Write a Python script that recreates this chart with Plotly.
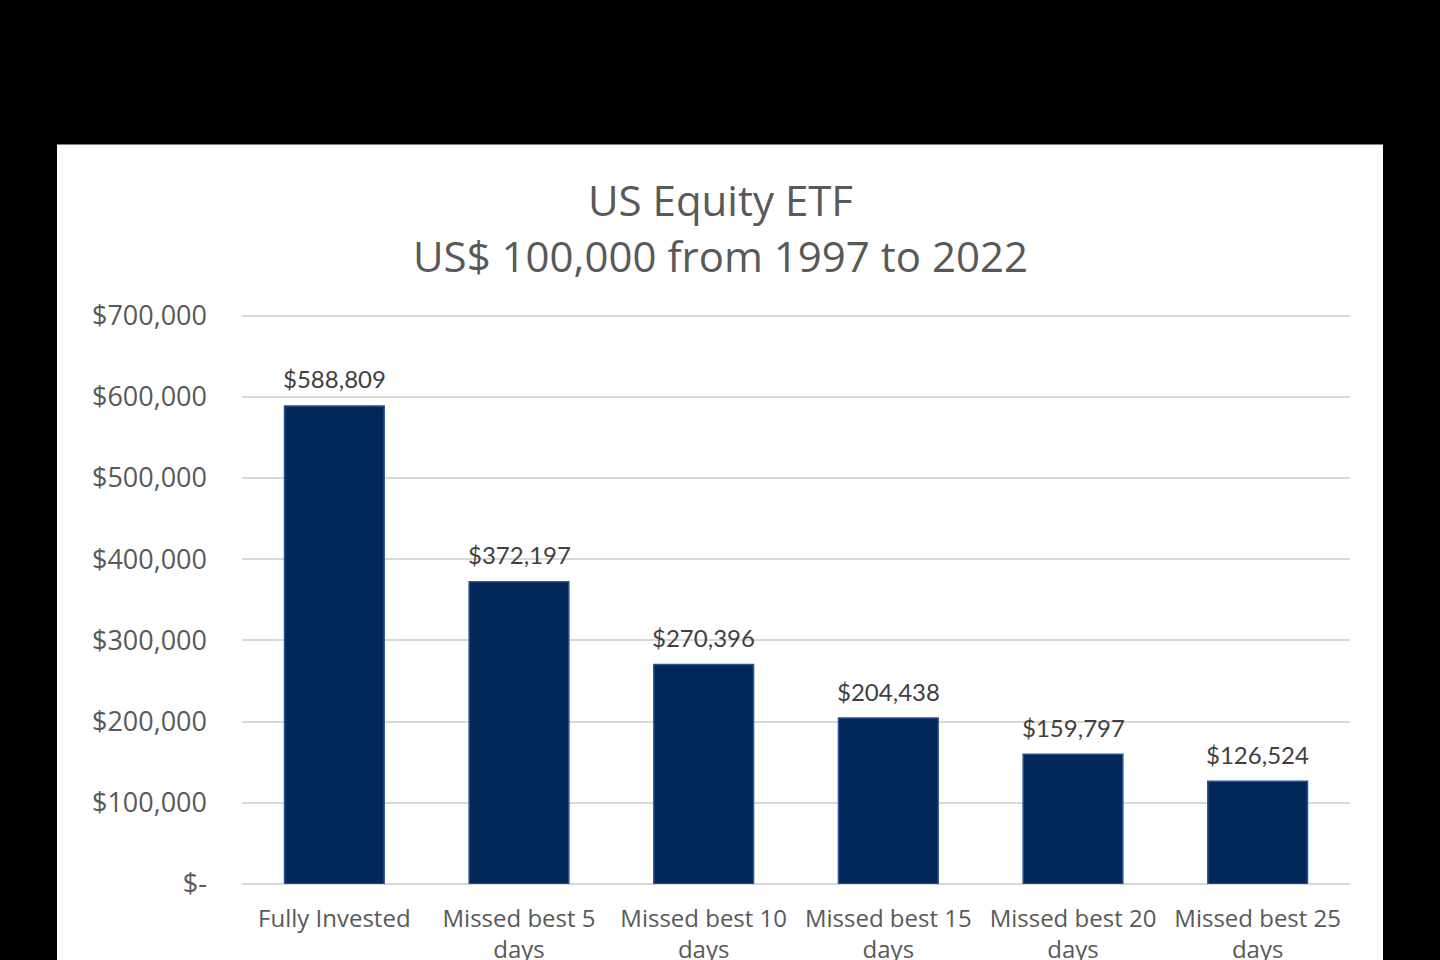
import plotly.graph_objects as go

categories = ["Fully Invested", "Missed best 5<br>days", "Missed best 10<br>days",
              "Missed best 15<br>days", "Missed best 20<br>days", "Missed best 25<br>days"]
values = [588809, 372197, 270396, 204438, 159797, 126524]
tick_vals = [0, 100000, 200000, 300000, 400000, 500000, 600000, 700000]
tick_text = ["$-", "$100,000", "$200,000", "$300,000", "$400,000", "$500,000", "$600,000", "$700,000"]
title_lines = ["US Equity ETF", "US$ 100,000 from 1997 to 2022"]

W, H = 1440, 960
y_top = 702000
L, R, B = 242, 90, 76
ph = (884 - 316) * y_top / 700000
T = H - B - ph
pw = W - L - R

def px_x(p):
    return (p - L) / pw

def px_y(p):
    return (H - B - p) / ph

fig = go.Figure()
fig.add_trace(go.Bar(
    x=categories, y=values,
    marker=dict(color="#012858", line=dict(color="#2a5494", width=1.5)),
))

for c, v in zip(categories, values):
    fig.add_annotation(x=c, y=v, text="${:,.0f}".format(v), showarrow=False,
                       xanchor="center", yanchor="middle", yshift=27,
                       font=dict(family="Lato", size=24, color="#404040"))

fig.add_shape(type="rect", xref="paper", yref="paper",
              x0=px_x(57), x1=px_x(1383), y0=px_y(1000), y1=px_y(145),
              fillcolor="white", line=dict(width=0), layer="below")

fig.add_annotation(text=title_lines[0], xref="paper", yref="paper",
                   x=px_x(720), y=px_y(200), showarrow=False, xanchor="center", yanchor="middle",
                   font=dict(family="Open Sans", size=42, color="#595959"))
fig.add_annotation(text=title_lines[1], xref="paper", yref="paper",
                   x=px_x(720), y=px_y(256), showarrow=False, xanchor="center", yanchor="middle",
                   font=dict(family="Open Sans", size=42, color="#595959"))

fig.update_layout(
    width=W, height=H,
    margin=dict(l=L, r=R, t=T, b=B, pad=0, autoexpand=False),
    paper_bgcolor="black", plot_bgcolor="white",
    bargap=0.46,
    showlegend=False,
    font=dict(family="Open Sans", color="#595959"),
)
fig.update_yaxes(range=[0, y_top], tickvals=tick_vals, ticktext=tick_text,
                 showgrid=True, gridcolor="#d9d9d9", gridwidth=1.5,
                 zeroline=True, zerolinecolor="#d9d9d9", zerolinewidth=1.5,
                 ticks="", ticklabelstandoff=34, automargin=False,
                 tickfont=dict(family="Open Sans", size=27, color="#595959"))
fig.update_xaxes(showgrid=False, ticks="", showline=False, ticklabelstandoff=18,
                 automargin=False,
                 tickfont=dict(family="Open Sans", size=24, color="#595959"))

fig.write_html("out.html", config={"displayModeBar": False},
               post_script="document.body.style.margin='0';document.body.style.background='black';document.body.style.overflow='hidden';")
